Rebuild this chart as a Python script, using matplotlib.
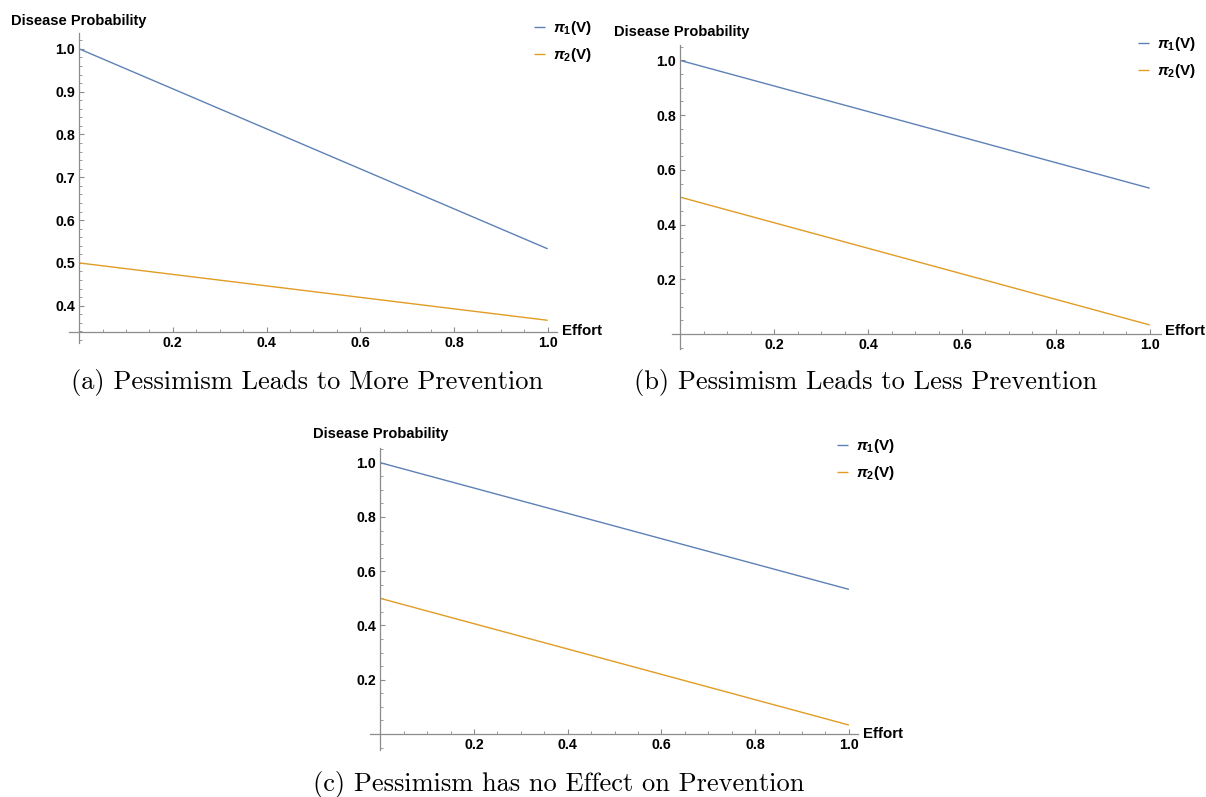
import numpy as np
import matplotlib
matplotlib.use("Agg")
import matplotlib.pyplot as plt
from matplotlib.ticker import MultipleLocator, FormatStrFormatter

plt.rcParams['font.family'] = ['Liberation Sans', 'DejaVu Sans']
plt.rcParams['mathtext.fontset'] = 'custom'
plt.rcParams['mathtext.rm'] = 'Liberation Sans:bold'
plt.rcParams['mathtext.it'] = 'Liberation Sans:italic:bold'
plt.rcParams['mathtext.bf'] = 'Liberation Sans:bold'

# effort levels (endpoints of the linear probability curves)
effort = [0.0, 1.0]

# (a) pessimism leads to more prevention
pi1_a = [1.0, 0.533]
pi2_a = [0.5, 0.366]
# (b) pessimism leads to less prevention
pi1_b = [1.0, 0.533]
pi2_b = [0.5, 0.033]
# (c) pessimism has no effect on prevention
pi1_c = [1.0, 0.533]
pi2_c = [0.5, 0.033]

series_labels = [r"$\pi_1$(V)", r"$\pi_2$(V)"]
captions = ["(a) Pessimism Leads to More Prevention",
            "(b) Pessimism Leads to Less Prevention",
            "(c) Pessimism has no Effect on Prevention"]
ylabel = "Disease Probability"
xlabel = "Effort"

BLUE = "#5e81b5"
ORANGE = "#e19c24"
AXIS = "#8c8c8c"

W, H = 1206, 797
fig = plt.figure(figsize=(W / 100, H / 100), dpi=100)


def px_axes(left, right, top, bottom):
    return fig.add_axes([left / W, 1 - bottom / H, (right - left) / W, (bottom - top) / H])


def fig_text(x, y, s, **kw):
    fig.text(x / W, 1 - y / H, s, **kw)


panels = [
    dict(box=(69, 557, 33, 343), xlim=(-0.0216, 1.020), ylim=(0.313, 1.037), y0=0.339,
         ymajor=0.1, yminor=0.02, yticks_from=0.4, data=(pi1_a, pi2_a),
         ylab=(11, 21), xlab=(562, 331), leg=(534, 19), cap=(307, 382)),
    dict(box=(671.5, 1160.5, 44.6, 349), xlim=(-0.019, 1.023), ylim=(-0.055, 1.058), y0=0.0,
         ymajor=0.2, yminor=0.05, yticks_from=0.2, data=(pi1_b, pi2_b),
         ylab=(613.5, 32), xlab=(1165, 331), leg=(1138, 35), cap=(866, 382)),
    dict(box=(370.4, 858.3, 448.3, 750), xlim=(-0.021, 1.020), ylim=(-0.059, 1.053), y0=0.0,
         ymajor=0.2, yminor=0.05, yticks_from=0.2, data=(pi1_c, pi2_c),
         ylab=(313, 434), xlab=(863.5, 734), leg=(837, 437), cap=(559, 785)),
]

for p, cap in zip(panels, captions):
    ax = px_axes(*p["box"])
    s1, s2 = p["data"]
    l1, = ax.plot(effort, s1, color=BLUE, lw=1.0, solid_capstyle='butt')
    l2, = ax.plot(effort, s2, color=ORANGE, lw=1.0, solid_capstyle='butt')
    ax.set_xlim(*p["xlim"])
    ax.set_ylim(*p["ylim"])
    ax.patch.set_visible(False)

    for side in ("top", "right"):
        ax.spines[side].set_visible(False)
    ax.spines["left"].set_position(("data", 0.0))
    ax.spines["bottom"].set_position(("data", p["y0"]))
    for side in ("left", "bottom"):
        ax.spines[side].set_color(AXIS)
        ax.spines[side].set_linewidth(0.9)

    xt = np.arange(0.2, 1.01, 0.2)
    yt = np.arange(p["yticks_from"], 1.001, p["ymajor"])
    ax.set_xticks(xt)
    ax.set_yticks(yt)
    ax.xaxis.set_minor_locator(MultipleLocator(0.05))
    ax.yaxis.set_minor_locator(MultipleLocator(p["yminor"]))
    ax.xaxis.set_major_formatter(FormatStrFormatter('%.1f'))
    ax.yaxis.set_major_formatter(FormatStrFormatter('%.1f'))
    ax.tick_params(which='major', direction='in', length=3.5, width=0.8, color=AXIS,
                   labelsize=10.2, pad=3)
    ax.tick_params(which='minor', direction='in', length=2.0, width=0.6, color=AXIS)
    for lab in ax.get_xticklabels() + ax.get_yticklabels():
        lab.set_fontweight('bold')

    fig_text(p["ylab"][0], p["ylab"][1], ylabel, fontsize=10.5, fontweight='bold',
             ha='left', va='center')
    fig_text(p["xlab"][0], p["xlab"][1], xlabel, fontsize=10.8, fontweight='bold',
             ha='left', va='center')

    lx, ly = p["leg"]
    fig.legend([l1, l2], series_labels, loc='upper left',
               bbox_to_anchor=(lx / W, 1 - ly / H), bbox_transform=fig.transFigure,
               frameon=False, handlelength=0.7, handletextpad=0.55, labelspacing=0.6,
               borderpad=0, borderaxespad=0,
               prop=dict(family='Liberation Sans', weight='bold', size=11))

    fig_text(p["cap"][0], p["cap"][1], cap, fontsize=19, family='cmr10',
             ha='center', va='center')

fig.savefig("out.png", dpi=100, facecolor='white')
